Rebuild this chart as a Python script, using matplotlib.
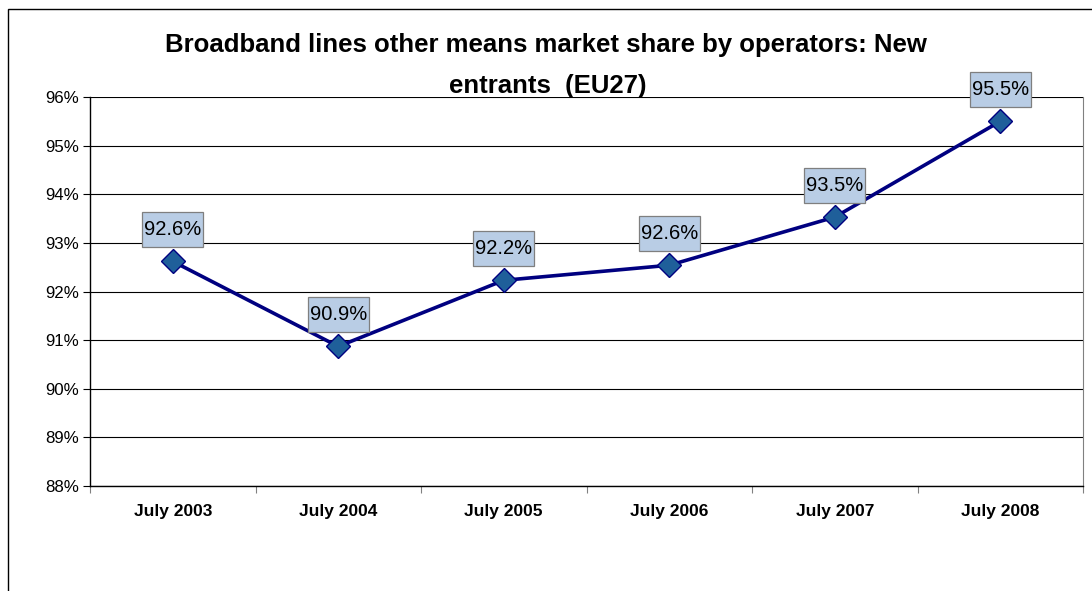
import matplotlib
matplotlib.use("Agg")
import matplotlib.pyplot as plt
from matplotlib.patches import Rectangle
from matplotlib.ticker import MultipleLocator, FuncFormatter
from matplotlib.transforms import ScaledTranslation

categories = ["July 2003", "July 2004", "July 2005", "July 2006", "July 2007", "July 2008"]
values = [92.62, 90.87, 92.23, 92.54, 93.53, 95.50]
labels = ["92.6%", "90.9%", "92.2%", "92.6%", "93.5%", "95.5%"]
title_line1 = "Broadband lines other means market share by operators: New"
title_line2 = "entrants  (EU27)"

plt.rcParams['font.family'] = ['Liberation Sans', 'DejaVu Sans']

fig = plt.figure(figsize=(10.92, 5.91), dpi=100)
W, H = 1092, 591
ax = fig.add_axes([90 / W, 1 - 486 / H, (1083 - 90) / W, (486 - 97) / H])

# outer chart border
fig.patches.append(Rectangle((8 / W, -0.05), 1.2, 1 - 9 / H + 0.05, transform=fig.transFigure,
                             fill=False, edgecolor='black', linewidth=1.0))

x = list(range(len(categories)))
ax.plot(x, values, color='#000080', linewidth=2.6, marker='D', markersize=12.5,
        markerfacecolor='#1F5F9A', markeredgecolor='#000080', markeredgewidth=1.0, zorder=3)

box_w, box_h, box_dy = 0.61, 0.35, 0.32  # inches
for xi, v, lab in zip(x, values, labels):
    tr = fig.dpi_scale_trans + ScaledTranslation(xi, v, ax.transData)
    ax.add_patch(Rectangle((-box_w / 2, box_dy - box_h / 2), box_w, box_h, transform=tr,
                           facecolor='#B9CDE5', edgecolor='#7F7F7F', linewidth=0.9,
                           clip_on=False, zorder=4))
    ax.text(0, box_dy, lab, transform=tr, ha='center', va='center', fontsize=14.5,
            zorder=5, clip_on=False)

ax.set_xlim(-0.5, len(categories) - 0.5)
ax.set_ylim(88, 96)
ax.yaxis.set_major_locator(MultipleLocator(1))
ax.yaxis.set_major_formatter(FuncFormatter(lambda v, p: f"{v:.0f}%"))
ax.grid(axis='y', color='black', linewidth=0.8)
ax.set_axisbelow(True)

ax.set_xticks([i - 0.5 for i in range(len(categories) + 1)], minor=False)
ax.set_xticklabels([])
ax.set_xticks(x, minor=True)
ax.set_xticklabels(categories, minor=True, fontweight='bold', fontsize=12.5)
ax.tick_params(axis='x', which='minor', length=0, pad=13)
ax.tick_params(axis='x', which='major', length=5, direction='out', color='#808080')
ax.tick_params(axis='y', length=5, direction='out', labelsize=12.2, pad=3)

for s in ['left', 'bottom']:
    ax.spines[s].set_color('black')
    ax.spines[s].set_linewidth(1.0)
ax.spines['right'].set_color('#808080')
ax.spines['top'].set_visible(False)

fig.text(546 / W, 1 - 45 / H, title_line1, ha='center', va='center', fontsize=18.5, fontweight='bold')
fig.text(548 / W, 1 - 86 / H, title_line2, ha='center', va='center', fontsize=18.5, fontweight='bold')

fig.savefig("out.png", dpi=100)
